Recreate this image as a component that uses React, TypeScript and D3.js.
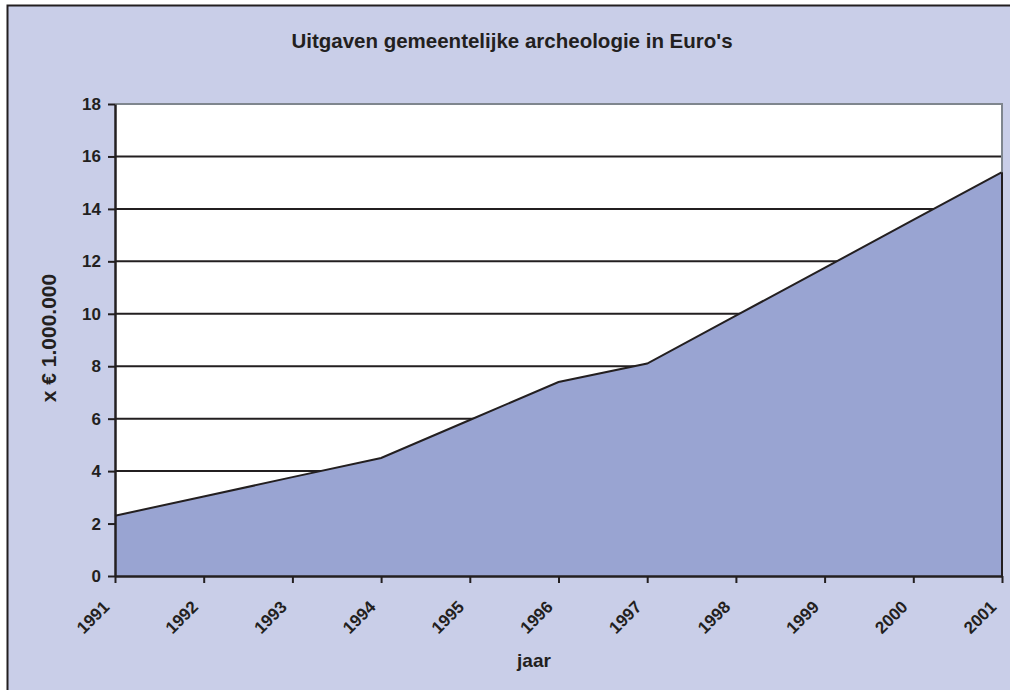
import React, { useEffect, useRef } from 'react';
import * as d3 from 'd3';

const years = [1991, 1992, 1993, 1994, 1995, 1996, 1997, 1998, 1999, 2000, 2001];
const spending = [2.3, 3.03, 3.77, 4.5, 5.95, 7.4, 8.1, 9.93, 11.75, 13.58, 15.4];
const yTicks = [0, 2, 4, 6, 8, 10, 12, 14, 16, 18];

const title = "Uitgaven gemeentelijke archeologie in Euro's";
const yTitle = 'x € 1.000.000';
const xTitle = 'jaar';

const App = () => {
  const svgRef = useRef<SVGSVGElement>(null);

  useEffect(() => {
    const svg = d3.select(svgRef.current);
    const width = 1010;
    const height = 690;
    const plot = { left: 115, right: 1002, top: 104, bottom: 576 };
    const font = '"Liberation Sans", Arial, sans-serif';
    const ink = '#231f20';

    svg.selectAll('*').remove();

    // page background + frame
    svg.append('rect').attr('width', width).attr('height', height).attr('fill', '#fff');
    svg.append('rect')
      .attr('x', 8).attr('y', 6)
      .attr('width', width).attr('height', height)
      .attr('fill', '#c9cee8');
    svg.append('path')
      .attr('d', `M7.5,${height} V5.5 H${width}`)
      .attr('fill', 'none')
      .attr('stroke', ink)
      .attr('stroke-width', 2);

    const x = d3.scaleLinear()
      .domain([years[0], years[years.length - 1]])
      .range([plot.left, plot.right]);

    const y = d3.scaleLinear()
      .domain([0, 18])
      .range([plot.bottom, plot.top]);

    // plot area
    svg.append('rect')
      .attr('x', plot.left).attr('y', plot.top)
      .attr('width', plot.right - plot.left).attr('height', plot.bottom - plot.top)
      .attr('fill', '#fff');

    // gridlines
    svg.append('g')
      .selectAll('line')
      .data(yTicks.filter(d => d > 0 && d < 18))
      .join('line')
        .attr('x1', plot.left).attr('x2', plot.right)
        .attr('y1', d => y(d)).attr('y2', d => y(d))
        .attr('stroke', ink)
        .attr('stroke-width', 2);

    const data = years.map((yr, i) => ({ yr, v: spending[i] }));

    svg.append('path')
      .datum(data)
      .attr('fill', '#99a4d2')
      .attr('d', d3.area<{ yr: number; v: number }>()
        .x(d => x(d.yr))
        .y0(y(0))
        .y1(d => y(d.v)));

    svg.append('path')
      .datum(data)
      .attr('fill', 'none')
      .attr('stroke', ink)
      .attr('stroke-width', 2)
      .attr('d', d3.line<{ yr: number; v: number }>()
        .x(d => x(d.yr))
        .y(d => y(d.v)));

    // plot border top/right
    svg.append('path')
      .attr('d', `M${plot.left},${plot.top} H${plot.right} V${plot.bottom}`)
      .attr('fill', 'none')
      .attr('stroke', '#7f868e')
      .attr('stroke-width', 2);
    svg.append('line')
      .attr('x1', plot.right).attr('x2', plot.right)
      .attr('y1', y(spending[spending.length - 1])).attr('y2', plot.bottom)
      .attr('stroke', ink).attr('stroke-width', 2);

    // y axis
    const yAxis = svg.append('g')
      .attr('transform', `translate(${plot.left},0)`)
      .call(d3.axisLeft(y).tickValues(yTicks).tickSize(7).tickPadding(7).tickSizeOuter(0));
    yAxis.select('.domain').attr('stroke', ink).attr('stroke-width', 2.5);
    yAxis.selectAll('.tick line').attr('stroke', ink).attr('stroke-width', 2);
    yAxis.selectAll('.tick text')
      .attr('fill', ink)
      .attr('font-family', font)
      .attr('font-weight', 'bold')
      .attr('font-size', 17);

    // x axis
    const xAxis = svg.append('g')
      .attr('transform', `translate(0,${plot.bottom})`)
      .call(d3.axisBottom(x).tickValues(years).tickFormat(d3.format('d')).tickSize(7).tickSizeOuter(0));
    xAxis.select('.domain').attr('stroke', ink).attr('stroke-width', 2.5);
    xAxis.selectAll('.tick line').attr('stroke', ink).attr('stroke-width', 2);
    xAxis.selectAll('.tick text')
      .attr('fill', ink)
      .attr('font-family', font)
      .attr('font-weight', 'bold')
      .attr('font-size', 17)
      .attr('text-anchor', 'end')
      .attr('y', 0)
      .attr('dy', 0)
      .attr('transform', 'translate(-5,32) rotate(-45)');

    // titles
    svg.append('text')
      .attr('x', 512).attr('y', 48)
      .attr('text-anchor', 'middle')
      .attr('font-family', font)
      .attr('font-weight', 'bold')
      .attr('font-size', 20.5)
      .attr('fill', ink)
      .text(title);

    svg.append('text')
      .attr('transform', 'translate(56,338) rotate(-90)')
      .attr('text-anchor', 'middle')
      .attr('font-family', font)
      .attr('font-weight', 'bold')
      .attr('font-size', 21)
      .attr('fill', ink)
      .text(yTitle);

    svg.append('text')
      .attr('x', 534).attr('y', 667)
      .attr('text-anchor', 'middle')
      .attr('font-family', font)
      .attr('font-weight', 'bold')
      .attr('font-size', 19)
      .attr('fill', ink)
      .text(xTitle);
  }, []);

  return (
    <svg
      ref={svgRef}
      width="1010"
      height="690"
      style={{ position: 'absolute', left: 0, top: 0, display: 'block' }}
    ></svg>
  );
};

export default App;
